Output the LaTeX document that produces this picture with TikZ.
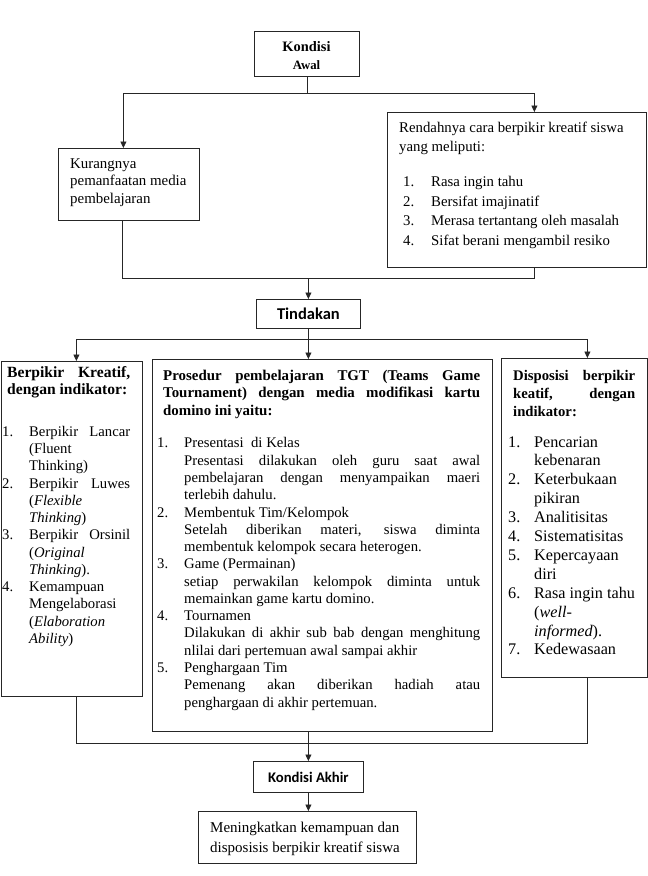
\documentclass[tikz,border=0pt]{standalone}
\usepackage{fontspec}
\setmainfont{Liberation Serif}
\newfontfamily\calibri{Carlito}
\usetikzlibrary{arrows.meta}
\newcommand\fsz[2]{\fontsize{#1}{#2}\selectfont}
\newcommand\myitem[3]{\par\noindent\hangindent=#1\hangafter=1\makebox[#1][l]{#2}\ignorespaces#3\par}
\tikzset{
  box/.style={draw=black!85, line width=0.8pt, inner sep=0pt, anchor=north west},
  txt/.style={inner sep=0pt, anchor=base west},
  ln/.style={draw=black!85, line width=0.8pt},
  arr/.style={ln, -{Triangle[length=6.5pt,width=6pt]}},
}
\begin{document}
\begin{tikzpicture}[x=1pt,y=-1pt]
\useasboundingbox[fill=white] (0,0) rectangle (648,876);

% ---- boxes
\node[box, minimum width=105, minimum height=45] (awal) at (254,31) {};
\node[box, minimum width=141, minimum height=72] (kurang) at (58,148) {};
\node[box, minimum width=259, minimum height=155] (rendah) at (387,112) {};
\node[box, minimum width=104, minimum height=29, font=\calibri\bfseries\fsz{16.5}{20}] (tind) at (256,299) {Tindakan};
\node[box, minimum width=141, minimum height=335] (berp) at (1,361) {};
\node[box, minimum width=340, minimum height=372] (pros) at (152,359) {};
\node[box, minimum width=146, minimum height=319] (disp) at (501,358) {};
\node[box, minimum width=110, minimum height=31, font=\calibri\bfseries\fsz{14.7}{18}] (akhir) at (253,761) {Kondisi Akhir};
\node[box, minimum width=218, minimum height=52] (hasil) at (198,811) {};

% ---- texts
\node[inner sep=0pt, anchor=base, font=\bfseries\fsz{14.4}{18}] (awal1) at (306.5,51) {Kondisi};
\node[inner sep=0pt, anchor=base, font=\bfseries\fsz{12.8}{16}] (awal2) at (306.5,69.5) {Awal};

\node[txt] (kurangt) at (70,168) {\begin{minipage}[t]{130pt}\raggedright\fsz{14.9}{17.5}%
Kurangnya\\ pemanfaatan media\\ pembelajaran\end{minipage}};

\node[txt] (rendaht) at (399,132) {\begin{minipage}[t]{245pt}\raggedright\fsz{14.8}{19.5}%
Rendahnya cara berpikir kreatif siswa\\ yang meliputi:\par
\vspace{15.5pt}\leftskip=4pt
\myitem{28pt}{1.}{Rasa ingin tahu}
\myitem{28pt}{2.}{Bersifat imajinatif}
\myitem{28pt}{3.}{Merasa tertantang oleh masalah}
\myitem{28pt}{4.}{Sifat berani mengambil resiko}
\end{minipage}};

\node[txt] (berpt) at (2,377) {\begin{minipage}[t]{128pt}\fsz{14.7}{17.25}%
{\bfseries\fsz{15.6}{17.25}\leftskip=5pt Berpikir Kreatif,\linebreak dengan indikator:\par}
\vspace{24.75pt}
\myitem{27pt}{1.}{Berpikir Lancar\linebreak (Fluent\\ Thinking)}
\myitem{27pt}{2.}{Berpikir Luwes\linebreak (\textit{Flexible}\\ \textit{Thinking})}
\myitem{27pt}{3.}{Berpikir Orsinil\linebreak (\textit{Original}\\ \textit{Thinking}).}
\myitem{27pt}{4.}{Kemampuan\\ Mengelaborasi\\ (\textit{Elaboration}\\ \textit{Ability})}
\end{minipage}};

\node[txt] (prost) at (157,380) {\begin{minipage}[t]{323pt}\fsz{14.7}{17.27}%
{\bfseries\fsz{14.9}{17.5}\leftskip=6pt Prosedur pembelajaran TGT (Teams Game\linebreak Tournament) dengan media modifikasi kartu\linebreak domino ini yaitu:\par}
\vspace{15.7pt}
\myitem{27pt}{1.}{Presentasi\ \ di Kelas\\ Presentasi dilakukan oleh guru saat awal\linebreak pembelajaran dengan menyampaikan maeri\linebreak terlebih dahulu.}
\myitem{27pt}{2.}{Membentuk Tim/Kelompok\\ Setelah diberikan materi, siswa diminta\linebreak membentuk kelompok secara heterogen.}
\myitem{27pt}{3.}{Game (Permainan)\\ setiap perwakilan kelompok diminta untuk\linebreak memainkan game kartu domino.}
\myitem{27pt}{4.}{Tournamen\\ Dilakukan di akhir sub bab dengan menghitung\linebreak nlilai dari pertemuan awal sampai akhir}
\myitem{27pt}{5.}{Penghargaan Tim\\ Pemenang akan diberikan hadiah atau\linebreak penghargaan di akhir pertemuan.}
\end{minipage}};

\node[txt] (dispt) at (508,380) {\begin{minipage}[t]{132pt}%
{\bfseries\fsz{14.7}{18}\leftskip=5pt\rightskip=5pt Disposisi berpikir\linebreak keatif, dengan\linebreak indikator:\par}
\fsz{16.2}{18.9}\vspace{12.1pt}
\myitem{26pt}{1.}{Pencarian\\ kebenaran}
\myitem{26pt}{2.}{Keterbukaan\\ pikiran}
\myitem{26pt}{3.}{Analitisitas}
\myitem{26pt}{4.}{Sistematisitas}
\myitem{26pt}{5.}{Kepercayaan\\ diri}
\myitem{26pt}{6.}{Rasa ingin tahu\\ (\textit{well-}\\ \textit{informed}).}
\myitem{26pt}{7.}{Kedewasaan}
\end{minipage}};

\node[txt] (hasilt) at (210,832) {\begin{minipage}[t]{205pt}\raggedright\fsz{15}{20}%
Meningkatkan kemampuan dan\\ disposisis berpikir kreatif siswa\end{minipage}};

% ---- connectors
\draw[ln] (awal.south) -- ++(0,17) coordinate (j1);
\draw[arr] (j1) -| ([xshift=-5.5pt]kurang.north);
\draw[arr] (j1) -| ([xshift=17.5pt]rendah.north);
\draw[ln] ([xshift=-6.5pt]kurang.south) |- (tind.north |- 0,278) coordinate (j2);
\draw[ln] ([xshift=17.5pt]rendah.south) |- (j2);
\draw[arr] (j2) -- (tind.north);
\draw[ln] (tind.south) -- ++(0,10.5) coordinate (j3);
\draw[arr] (j3) -| ([xshift=4.5pt]berp.north);
\draw[arr] (j3) -| ([xshift=-14pt]pros.north);
\draw[arr] (j3) -| ([xshift=13pt]disp.north);
\draw[ln] ([xshift=4.5pt]berp.south) |- (akhir.north |- 0,743) coordinate (j4);
\draw[ln] ([xshift=13pt]disp.south) |- (j4);
\draw[arr] ([xshift=-14pt]pros.south) -- (akhir.north);
\draw[arr] (akhir.south) -- (hasil.north -| akhir.south);
\end{tikzpicture}
\end{document}
